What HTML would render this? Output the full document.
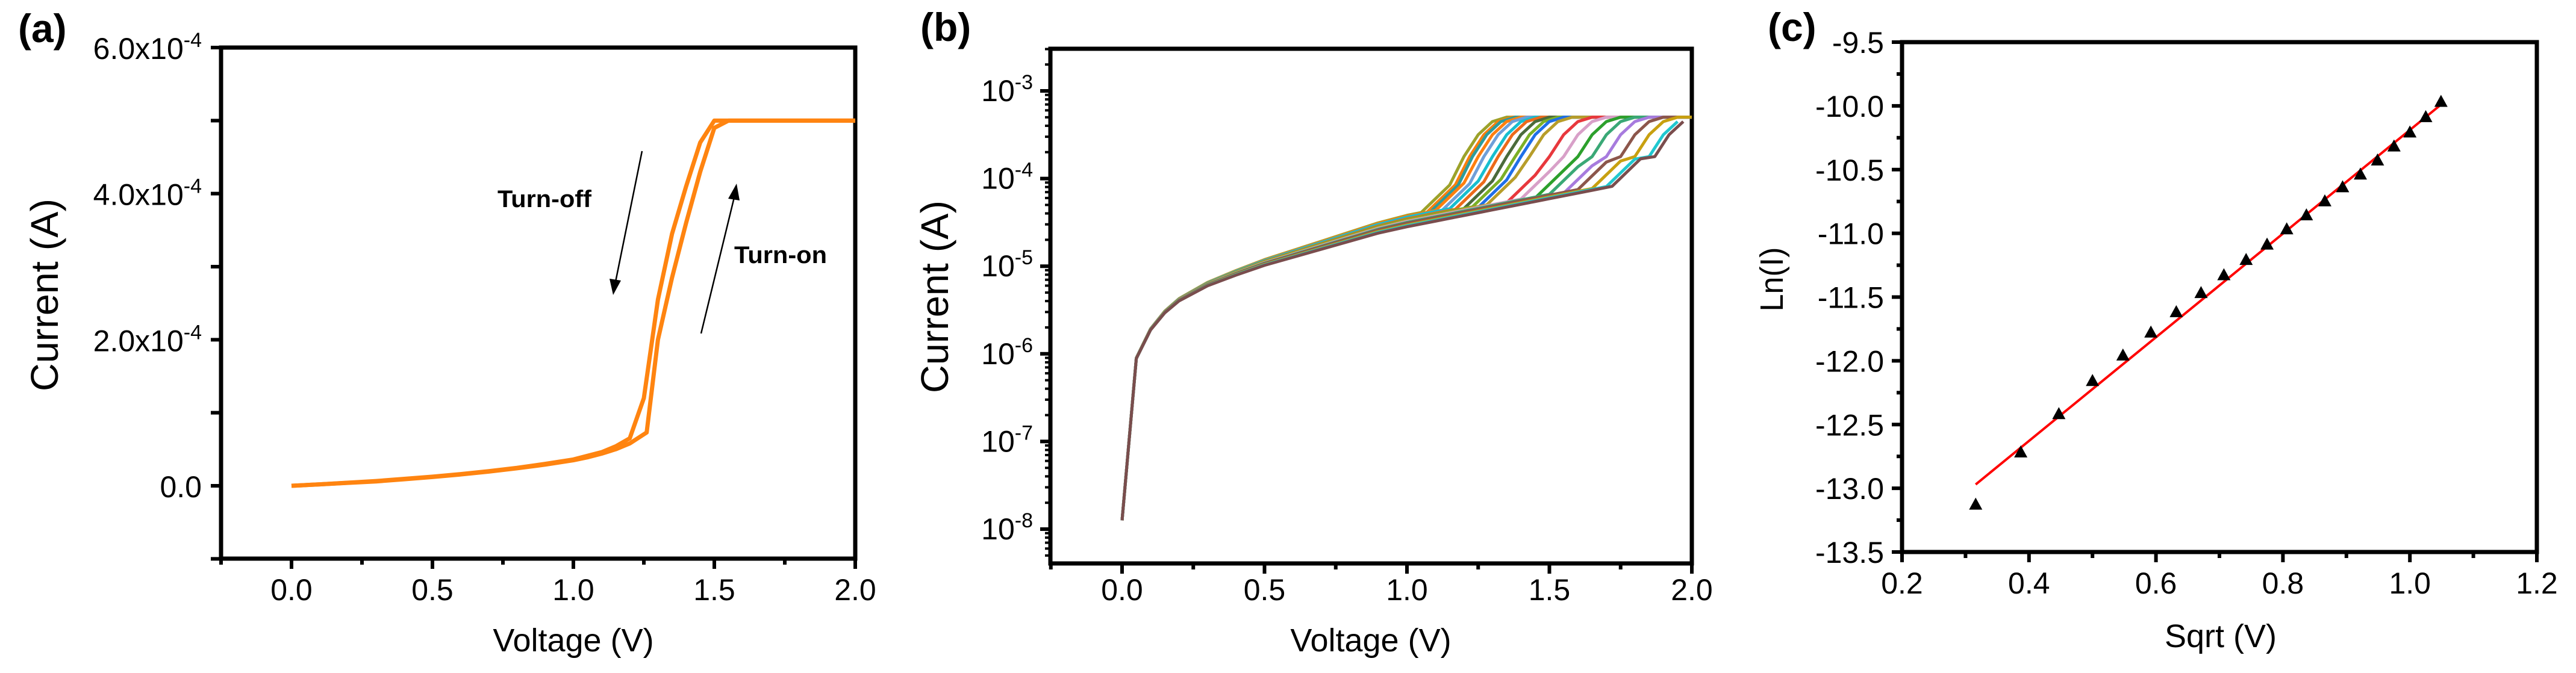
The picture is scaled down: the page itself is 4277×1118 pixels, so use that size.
<!DOCTYPE html>
<html><head><meta charset="utf-8">
<style>
html,body{margin:0;padding:0;background:#fff;overflow:hidden;}
svg{display:block;}
text{font-family:"Liberation Sans",sans-serif;fill:#000;}
</style></head>
<body>
<svg id="fig" width="4277" height="1118" viewBox="0 0 4277 1118" xmlns="http://www.w3.org/2000/svg"></svg>
<script>
// ---------- Panel (a) data ----------
const aFwdV = [0,0.1,0.2,0.3,0.4,0.5,0.6,0.7,0.8,0.9,1.0,1.05,1.1,1.15,1.2,1.26,1.3,1.35,1.4,1.45,1.5,1.55,1.6,1.8,2.0];
const aFwdI = [0,0.2e-5,0.4e-5,0.6e-5,0.9e-5,1.2e-5,1.55e-5,1.95e-5,2.4e-5,2.9e-5,3.5e-5,3.9e-5,4.4e-5,5.0e-5,5.8e-5,7.3e-5,2.0e-4,2.85e-4,3.6e-4,4.3e-4,4.9e-4,5.0e-4,5.0e-4,5.0e-4,5.0e-4];
const aRevV = [2.0,1.8,1.6,1.5,1.45,1.4,1.35,1.3,1.25,1.2,1.15,1.1,1.0,0.9,0.8,0.7,0.6,0.5,0.4,0.3,0.2,0.1,0];
const aRevI = [5.0e-4,5.0e-4,5.0e-4,5.0e-4,4.7e-4,4.1e-4,3.45e-4,2.55e-4,1.2e-4,6.5e-5,5.4e-5,4.6e-5,3.6e-5,3.0e-5,2.45e-5,2.0e-5,1.6e-5,1.25e-5,0.95e-5,0.65e-5,0.42e-5,0.2e-5,0];
const aXTicks = [0,0.5,1.0,1.5,2.0];
const aXLabels = ["0.0","0.5","1.0","1.5","2.0"];
const aYTicks = [0,2e-4,4e-4,6e-4];
const aYMant = ["0.0","2.0x10","4.0x10","6.0x10"];

// ---------- Panel (b) data ----------
const bBaseV = [0,0.05,0.1,0.15,0.2,0.3,0.4,0.5,0.6,0.7,0.8,0.9,1.0];
const bBaseLog = [-7.9,-6.05,-5.72,-5.52,-5.38,-5.2,-5.07,-4.95,-4.85,-4.75,-4.65,-4.55,-4.47];
const bSwitchV = [1.15,1.17,1.18,1.2,1.22,1.25,1.27,1.3,1.33,1.35,1.38,1.45,1.5,1.55,1.6,1.65,1.7,1.75,1.8,1.82];
const bOffset = [0.05,0.04,0.03,0.04,0.02,0.03,0.01,0.0,0.0,-0.02,-0.01,-0.03,-0.02,-0.04,-0.03,-0.05,-0.04,-0.06,-0.07,-0.08];
const bColors = ["#9ca22a","#f77f0e","#2c9c9c","#ff7f0e","#6f9fd8","#17becf","#ec6a1a","#4b6b3b","#7cb026","#1f6fe8","#b79d2a","#e8383d","#d8a0c8","#2ca02c","#3aa876","#a77bde","#8c564b","#c8a010","#20c8d0","#7a4d4d"];
const bYExp = [-3,-4,-5,-6,-7,-8];
const bXTicks = [0,0.5,1.0,1.5,2.0];
const bXLabels = ["0.0","0.5","1.0","1.5","2.0"];

// ---------- Panel (c) data ----------
const cX = [0.316,0.387,0.447,0.5,0.548,0.592,0.632,0.671,0.707,0.742,0.775,0.806,0.837,0.866,0.894,0.922,0.949,0.975,1.0,1.025,1.049];
const cY = [-13.13,-12.72,-12.42,-12.16,-11.96,-11.78,-11.62,-11.47,-11.33,-11.21,-11.09,-10.97,-10.86,-10.75,-10.64,-10.54,-10.43,-10.32,-10.21,-10.09,-9.97];
const cFitX = [0.316,1.049];
const cFitY = [-12.97,-9.99];
const cXTicks = [0.2,0.4,0.6,0.8,1.0,1.2];
const cXLabels = ["0.2","0.4","0.6","0.8","1.0","1.2"];
const cYTicks = [-9.5,-10,-10.5,-11,-11.5,-12,-12.5,-13,-13.5];
const cYLabels = ["-9.5","-10.0","-10.5","-11.0","-11.5","-12.0","-12.5","-13.0","-13.5"];

const NS = "http://www.w3.org/2000/svg";
const svg = document.getElementById('fig');
function el(tag, attrs, parent){
  const e = document.createElementNS(NS, tag);
  for (const k in attrs) e.setAttribute(k, attrs[k]);
  (parent||svg).appendChild(e);
  return e;
}
function txt(str, x, y, size, anchor, parent, weight, len){
  const a = {x:x, y:y, 'font-size':size, 'text-anchor':anchor||'middle', 'font-weight':weight||'normal'};
  if (len){ a.textLength = len; a.lengthAdjust = 'spacingAndGlyphs'; }
  const t = el('text', a, parent);
  t.textContent = str;
  return t;
}
function box(L,R,T,B,g){
  const r = el('rect',{x:L,y:T,width:R-L,height:B-T,fill:'none',stroke:'#000','stroke-width':7},g);
  
  
}
function supLabel(mant, exp, x, y, g){
  const t = el('text',{x:x,y:y,'font-size':50,'text-anchor':'end'},g);
  
  
  t.appendChild(document.createTextNode(mant));
  const s = document.createElementNS(NS,'tspan'); s.setAttribute('dy','-20'); s.setAttribute('font-size','34'); s.textContent=exp; t.appendChild(s);
  return t;
}

// ===== Panel A =====
(function(){
  const L=367,R=1420,T=79,B=928;
  const xs = v => 484 + v*(1420-484)/2.0;
  const ys = i => 807 - i*(807-79)/6e-4;
  const g = el('g',{});  
  const lab = txt('(a)',30,70,66,'start',g,'bold');
   
  for (let v=-0.25; v<=2.001; v+=0.25){
    const major = Math.abs(v*2-Math.round(v*2))<1e-6;
    el('line',{x1:xs(v),x2:xs(v),y1:B,y2:B+(major?17:10),stroke:'#000','stroke-width':6},g);
  }
  aXTicks.forEach((v,i)=>{const t=txt(aXLabels[i],xs(v),997,50,'middle',g);  });
  for (let v=-1e-4; v<=6.01e-4; v+=1e-4){
    el('line',{x1:L-17,x2:L,y1:ys(v),y2:ys(v),stroke:'#000','stroke-width':6},g);
  }
  aYTicks.forEach((v,i)=>{
    const y = ys(v)+19;
    if (i===0){ const t=txt(aYMant[i],335,y,50,'end',g);   }
    else supLabel(aYMant[i],'-4',335,y,g);
  });
  box(L,R,T,B,g);
  const mk = (V,I)=>V.map((v,k)=>xs(v)+','+ys(I[k])).join(' ');
  const p1 = el('polyline',{points:mk(aFwdV,aFwdI),fill:'none',stroke:'#ff8410','stroke-width':7,'stroke-linejoin':'round'},g);
   
  const p2 = el('polyline',{points:mk(aRevV,aRevI),fill:'none',stroke:'#ff8410','stroke-width':7,'stroke-linejoin':'round'},g);
   
  const yt = txt('Current (A)',0,0,64,'middle',g,'normal',320); yt.setAttribute('transform','translate(96,490) rotate(-90)');
   
  const xt = txt('Voltage (V)',952,1082,54,'middle',g);  
  const t1 = txt('Turn-off',826,344,40,'start',g,'bold',156);  
  const t2 = txt('Turn-on',1219,437,40,'start',g,'bold',154);  
  const a1 = el('line',{x1:1066,y1:251,x2:1022,y2:468,stroke:'#000','stroke-width':2.5},g);
   
  el('polygon',{points:'1018,490 1012,463 1031,466',fill:'#000'},g);
  const a2 = el('line',{x1:1164,y1:554,x2:1219,y2:328,stroke:'#000','stroke-width':2.5},g);
   
  el('polygon',{points:'1223,305 1228,333 1209,330',fill:'#000'},g);
})();

// ===== Panel B =====
(function(){
  const L=1744,R=2809,T=81,B=936;
  const xs = v => 1863 + v*(2809-1863)/2.0;
  const ys = lg => 151 + (-3-lg)*145.6;
  const g = el('g',{});  
  const lab = txt('(b)',1528,68,66,'start',g,'bold');
   
  for (let v=-0.25; v<=2.001; v+=0.25){
    const major = Math.abs(v*2-Math.round(v*2))<1e-6;
    el('line',{x1:xs(v),x2:xs(v),y1:B,y2:B+(major?17:10),stroke:'#000','stroke-width':6},g);
  }
  bXTicks.forEach((v,i)=>{const t=txt(bXLabels[i],xs(v),997,50,'middle',g);  });
  for (let e=-9; e<=-2; e++){
    for (let m=1; m<=9; m++){
      const lg = e+Math.log10(m);
      const y = ys(lg);
      if (y<T||y>B) continue;
      el('line',{x1:L-(m===1?17:9),x2:L,y1:y,y2:y,stroke:'#000','stroke-width':m===1?6:4},g);
    }
  }
  bYExp.forEach(e=>{ supLabel('10',String(e),1715,ys(e)+17,g); });
  box(L,R,T,B,g);
  bSwitchV.forEach((vs,i)=>{
    const pts=[];
    bBaseV.forEach((v,k)=>pts.push([v,bBaseLog[k]+bOffset[i]*(v/1.0)]));
    const base1 = bBaseLog[bBaseLog.length-1]+bOffset[i];
    const preLog = v => base1 + 0.64*(v-1) + (v>vs-0.1 ? 0.25*(v-(vs-0.1))/0.1 : 0);
    for (let v=1.05; v<vs-0.001; v+=0.05) pts.push([v,preLog(v)]);
    if (vs-0.1>1.0) pts.push([vs-0.1,preLog(vs-0.1)]);
    pts.push([vs,preLog(vs)]);
    pts.push([vs+0.05,-3.75]); pts.push([vs+0.1,-3.5]); pts.push([vs+0.15,-3.35]);
    if (vs+0.2<2.0) {pts.push([vs+0.2,-3.3]); pts.push([2.0,-3.3]);}
    pts.sort((a,b)=>a[0]-b[0]);
    const pl = el('polyline',{points:pts.filter(p=>p[0]<=2.0).map(p=>xs(p[0])+','+ys(Math.min(p[1],-3.3))).join(' '),fill:'none',stroke:bColors[i],'stroke-width':5,'stroke-linejoin':'round'},g);
    
    
  });
  const yt = txt('Current (A)',0,0,64,'middle',g,'normal',320); yt.setAttribute('transform','translate(1574,493) rotate(-90)');
   
  const xt = txt('Voltage (V)',2276,1082,54,'middle',g);  
})();

// ===== Panel C =====
(function(){
  const L=3158,R=4212,T=70,B=917;
  const xs = v => L + (v-0.2)*(R-L)/1.0;
  const ys = v => T + (-9.5-v)*(B-T)/4.0;
  const g = el('g',{});  
  const lab = txt('(c)',2935,68,66,'start',g,'bold');
   
  for (let v=0.2; v<=1.201; v+=0.1){
    const major = Math.abs(v*5-Math.round(v*5))<1e-6;
    el('line',{x1:xs(v),x2:xs(v),y1:B,y2:B+(major?17:10),stroke:'#000','stroke-width':6},g);
  }
  cXTicks.forEach((v,i)=>{const t=txt(cXLabels[i],xs(v),986,50,'middle',g);  });
  for (let v=-9.5; v>=-13.501; v-=0.25){
    const major = Math.abs(v*2-Math.round(v*2))<1e-6;
    el('line',{x1:L-(major?17:9),x2:L,y1:ys(v),y2:ys(v),stroke:'#000','stroke-width':6},g);
  }
  cYTicks.forEach((v,i)=>{const t=txt(cYLabels[i],3128,ys(v)+18,50,'end',g);  });
  box(L,R,T,B,g);
  const fit = el('line',{x1:xs(cFitX[0]),y1:ys(cFitY[0]),x2:xs(cFitX[1]),y2:ys(cFitY[1]),stroke:'#ff0000','stroke-width':4},g);
   
  cX.forEach((x,i)=>{
    const px=xs(x), py=ys(cY[i]);
    const tri = el('polygon',{points:`${px},${py-12} ${px-11},${py+8} ${px+11},${py+8}`,fill:'#000'},g);
    
    
  });
  const yt = txt('Ln(I)',0,0,54,'middle',g,'normal',107); yt.setAttribute('transform','translate(2960,464) rotate(-90)');
   
  const xt = txt('Sqrt (V)',3687,1075,54,'middle',g);  
})();
</script>
</body></html>
